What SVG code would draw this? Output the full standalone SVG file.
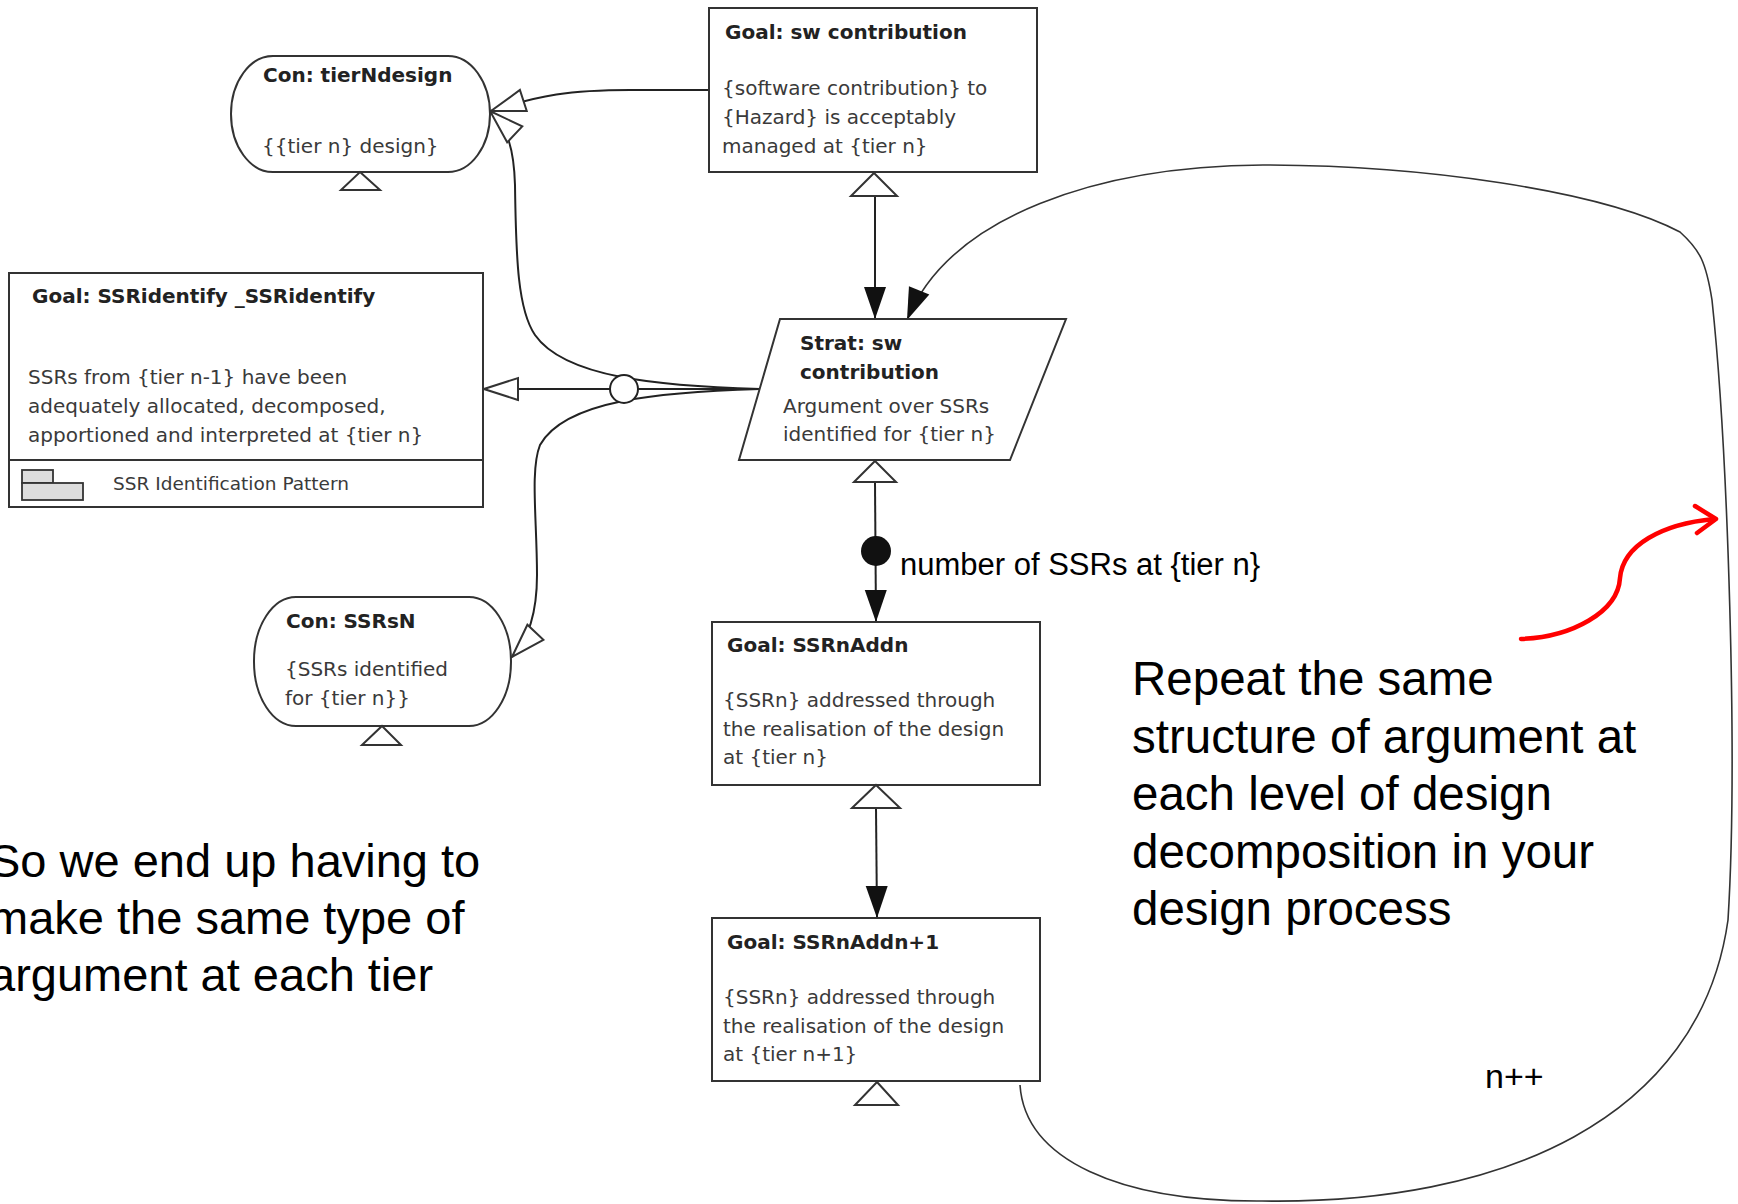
<svg xmlns="http://www.w3.org/2000/svg" width="1738" height="1204" viewBox="0 0 1738 1204">
  <style>
    .box{fill:#fff;stroke:#333;stroke-width:2}
    .uninst{fill:#fff;stroke:#333;stroke-width:2}
    .ttl{font-family:"DejaVu Sans",sans-serif;font-weight:bold;font-size:20px;fill:#222}
    .txt{font-family:"DejaVu Sans",sans-serif;font-size:20px;fill:#3a3a3a}
    .pkg{font-family:"DejaVu Sans",sans-serif;font-size:18.5px;fill:#3a3a3a}
    .link{fill:none;stroke:#222;stroke-width:2}
    .loop{fill:none;stroke:#333;stroke-width:1.6}
    .note{font-family:"Liberation Sans",Arial,sans-serif;fill:#000}
  </style>
  <defs>
    <!-- SupportedBy: filled arrowhead -->
    <marker id="solid" markerUnits="userSpaceOnUse" markerWidth="34" markerHeight="24" viewBox="0 0 34 24" refX="33" refY="12" orient="auto">
      <path d="M1,1 L33,12 L1,23 Z" fill="#111"/>
    </marker>
    <!-- InContextOf: hollow arrowhead -->
    <marker id="hollow" markerUnits="userSpaceOnUse" markerWidth="38" markerHeight="26" viewBox="0 0 38 26" refX="36" refY="13" orient="auto">
      <path d="M2,2 L36,13 L2,24 Z" fill="#fff" stroke="#333" stroke-width="2"/>
    </marker>
  </defs>

  <!-- connectors -->
  <g id="connectors">
    <!-- goal sw contribution -> strategy -->
    <path class="link" d="M875,196 L875,319" marker-end="url(#solid)"/>
    <!-- goal sw contribution -> context tierNdesign -->
    <path class="link" d="M709,90 L630,90 C570,90 540,95 491,111" marker-end="url(#hollow)"/>
    <!-- strategy -> context tierNdesign -->
    <path class="link" d="M760,389 C660,386 565,378 535,335 C518,310 516,260 515,185 C514,150 508,128 490,111" marker-end="url(#hollow)"/>
    <!-- strategy -> goal SSRidentify -->
    <path class="link" d="M760,389 L484,389" marker-end="url(#hollow)"/>
    <!-- strategy -> context SSRsN -->
    <path class="link" d="M760,389 C660,392 565,400 540,445 C530,470 537,520 537,575 C537,610 530,638 512,657" marker-end="url(#hollow)"/>
    <!-- optional choice -->
    <circle cx="624" cy="389" r="14" fill="#fff" stroke="#222" stroke-width="2"/>
    <!-- strategy -> goal SSRnAddn (multiplicity) -->
    <path class="link" d="M875,482 L876,622" marker-end="url(#solid)"/>
    <circle cx="876" cy="551" r="15" fill="#111"/>
    <!-- goal SSRnAddn -> goal SSRnAddn+1 -->
    <path class="link" d="M876,808 L877,918" marker-end="url(#solid)"/>
    <!-- iteration loop back to strategy -->
    <path class="loop" d="M1020,1085 C1025,1160 1120,1202 1262,1201 C1500,1205 1700,1120 1728,920 C1738,760 1728,450 1712,300 C1706,262 1700,250 1680,232 C1600,190 1420,165 1263,165 C1100,166 950,215 907,320" marker-end="url(#solid)"/>
  </g>

  <!-- Goal: sw contribution -->
  <g id="goal-sw-contribution">
    <rect class="box" x="709" y="8" width="328" height="164"/>
    <text class="ttl" x="725" y="39">Goal: sw contribution</text>
    <text class="txt" x="722" y="95">{software contribution} to</text>
    <text class="txt" x="722" y="124">{Hazard} is acceptably</text>
    <text class="txt" x="722" y="153">managed at {tier n}</text>
    <path class="uninst" d="M874,173 L897,196 L851,196 Z"/>
  </g>

  <!-- Con: tierNdesign -->
  <g id="con-tierNdesign">
    <rect class="box" x="231" y="56" width="259" height="116" rx="42" ry="58"/>
    <text class="ttl" x="263" y="82">Con: tierNdesign</text>
    <text class="txt" x="262" y="153">{{tier n} design}</text>
    <path class="uninst" d="M360,172 L380,190 L341,190 Z"/>
  </g>

  <!-- Goal: SSRidentify _SSRidentify (away goal) -->
  <g id="goal-ssridentify">
    <rect class="box" x="9" y="273" width="474" height="234"/>
    <line x1="9" y1="460" x2="483" y2="460" stroke="#333" stroke-width="2"/>
    <text class="ttl" x="32" y="303">Goal: SSRidentify _SSRidentify</text>
    <text class="txt" x="28" y="384">SSRs from {tier n-1} have been</text>
    <text class="txt" x="28" y="413">adequately allocated, decomposed,</text>
    <text class="txt" x="28" y="442">apportioned and interpreted at {tier n}</text>
    <rect x="22" y="470" width="31" height="13" fill="#ddd" stroke="#333" stroke-width="1.8"/>
    <rect x="22" y="483" width="61" height="17" fill="#ddd" stroke="#333" stroke-width="1.8"/>
    <text class="pkg" x="113" y="490">SSR Identification Pattern</text>
  </g>

  <!-- Strat: sw contribution -->
  <g id="strat-sw-contribution">
    <path class="box" d="M780,319 L1066,319 L1010,460 L739,460 Z"/>
    <text class="ttl" x="800" y="350">Strat: sw</text>
    <text class="ttl" x="800" y="379">contribution</text>
    <text class="txt" x="783" y="413">Argument over SSRs</text>
    <text class="txt" x="783" y="441">identified for {tier n}</text>
    <path class="uninst" d="M875,461 L896,482 L854,482 Z"/>
  </g>

  <!-- multiplicity label -->
  <text id="label-multiplicity" class="note" x="900" y="575" font-size="31" fill="#222">number of SSRs at {tier n}</text>

  <!-- Con: SSRsN -->
  <g id="con-ssrsn">
    <rect class="box" x="254" y="597" width="257" height="129" rx="42" ry="64"/>
    <text class="ttl" x="286" y="628">Con: SSRsN</text>
    <text class="txt" x="285" y="676">{SSRs identified</text>
    <text class="txt" x="285" y="705">for {tier n}}</text>
    <path class="uninst" d="M382,726 L401,745 L362,745 Z"/>
  </g>

  <!-- Goal: SSRnAddn -->
  <g id="goal-ssrnaddn">
    <rect class="box" x="712" y="622" width="328" height="163"/>
    <text class="ttl" x="727" y="652">Goal: SSRnAddn</text>
    <text class="txt" x="723" y="707">{SSRn} addressed through</text>
    <text class="txt" x="723" y="736">the realisation of the design</text>
    <text class="txt" x="723" y="764">at {tier n}</text>
    <path class="uninst" d="M876,785 L900,808 L852,808 Z"/>
  </g>

  <!-- Goal: SSRnAddn+1 -->
  <g id="goal-ssrnaddn-1">
    <rect class="box" x="712" y="918" width="328" height="163"/>
    <text class="ttl" x="727" y="949">Goal: SSRnAddn+1</text>
    <text class="txt" x="723" y="1004">{SSRn} addressed through</text>
    <text class="txt" x="723" y="1033">the realisation of the design</text>
    <text class="txt" x="723" y="1061">at {tier n+1}</text>
    <path class="uninst" d="M877,1082 L898,1105 L855,1105 Z"/>
  </g>

  <!-- loop label -->
  <text id="label-loop" class="note" x="1485" y="1088" font-size="34" fill="#222">n++</text>

  <!-- commentary -->
  <g id="note-left" class="note" font-size="47">
    <text x="-11" y="877">So we end up having to</text>
    <text x="-11" y="934">make the same type of</text>
    <text x="-11" y="991">argument at each tier</text>
  </g>
  <g id="note-right" class="note" font-size="47.5">
    <text x="1132" y="695">Repeat the same</text>
    <text x="1132" y="753">structure of argument at</text>
    <text x="1132" y="810">each level of design</text>
    <text x="1132" y="868">decomposition in your</text>
    <text x="1132" y="925">design process</text>
  </g>

  <!-- red pointer to the loop -->
  <g id="pointer" fill="none" stroke="#f00" stroke-width="4.5" stroke-linecap="round" stroke-linejoin="round">
    <path d="M1521,639 C1572,637 1618,612 1620,578 C1623,545 1662,524 1714,519"/>
    <path d="M1695,506 L1716,519 L1697,533"/>
  </g>
</svg>
